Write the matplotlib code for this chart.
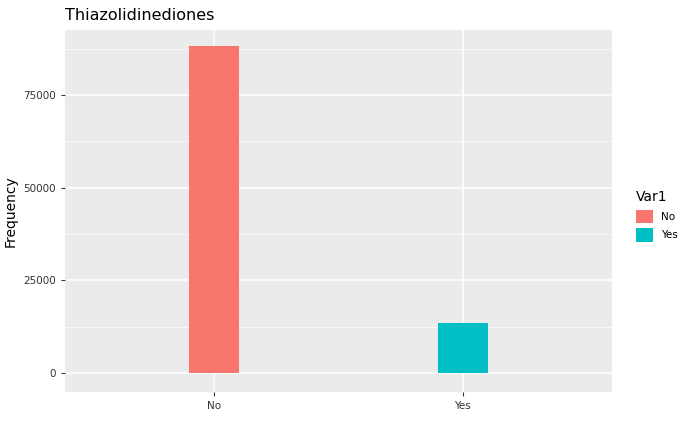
import matplotlib.pyplot as plt
from matplotlib.patches import Patch

categories = ["No", "Yes"]
counts = [88200, 13500]
colors = ["#F8766D", "#00BFC4"]
yticks = [0, 25000, 50000, 75000]

fig = plt.figure(figsize=(7, 4.32), dpi=100)
ax = fig.add_axes([0.093, 0.0926, 0.781, 0.838])
ax.set_facecolor("#EBEBEB")

xs = [1, 2]
ax.bar(xs, counts, width=0.2, color=colors, zorder=3)
ax.set_xlim(0.4, 2.6)
ax.set_ylim(-5126, 92533)
ax.set_xticks(xs)
ax.set_xticklabels(categories)
ax.set_yticks(yticks)
ax.set_yticklabels([str(v) for v in yticks])
ax.set_yticks([12500, 37500, 62500, 87500], minor=True)
ax.grid(which="major", color="white", linewidth=1.1, zorder=0)
ax.grid(which="minor", axis="y", color="white", linewidth=0.5, zorder=0)
for s in ax.spines.values():
    s.set_visible(False)
ax.tick_params(which="major", colors="#333333", labelsize=7.5, length=3, color="#333333")
ax.tick_params(which="minor", length=0)
ax.set_ylabel("Frequency", fontsize=10)
ax.set_title("Thiazolidinediones", loc="left", fontsize=11.5, pad=7)

handles = [Patch(facecolor=c, edgecolor="none") for c in colors]
leg = fig.legend(handles, categories, title="Var1", loc="center left",
                 bbox_to_anchor=(0.895, 0.5), frameon=False, fontsize=7.5,
                 title_fontsize=10, handlelength=1.6, handleheight=1.6,
                 alignment="left")
fig.savefig("out.png", dpi=100)
